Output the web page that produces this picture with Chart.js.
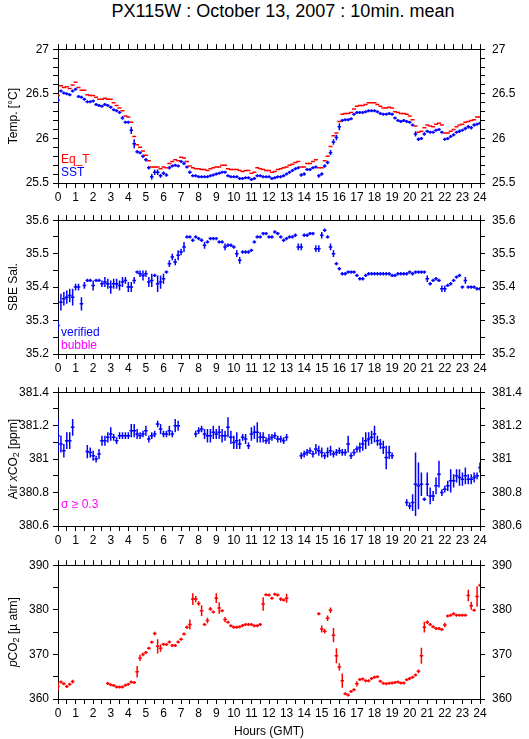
<!DOCTYPE html>
<html>
<head>
<meta charset="utf-8">
<script src="https://cdn.jsdelivr.net/npm/chart.js@4.4.0/dist/chart.umd.min.js"></script>
<style>
  body { margin: 0; background: #fff; width: 529px; height: 739px; overflow: hidden; position: relative;
         font-family: "Liberation Sans", Arial, sans-serif; }
  #title { position: absolute; left: 0; top: 0; width: 529px; padding-left: 37px; box-sizing: border-box;
           text-align: center; font-size: 18px; line-height: 22px; color: #000; }
  canvas { position: absolute; left: 0; }
</style>
</head>
<body>
<div id="title">PX115W : October 13, 2007 : 10min. mean</div>
<canvas id="c1"></canvas>
<canvas id="c2"></canvas>
<canvas id="c3"></canvas>
<canvas id="c4"></canvas>
<script>
// 10-minute bins, 0 .. 24 h (GMT)
const HOURS = Array.from({ length: 145 }, (_, k) => k / 6);

// --- Temperature panel ---
const SST = [
  26.43, 26.53, 26.51, 26.50, 26.49, 26.53,
  26.55, 26.47, 26.46, 26.44, 26.41, 26.41,
  26.42, 26.38, 26.37, 26.36, 26.38, 26.37,
  26.35, 26.32, 26.31, 26.29, 26.23, 26.18,
  26.18, 26.09, 25.94, 25.85, 25.84, 25.80,
  25.76, 25.67, 25.57, 25.62, 25.62, 25.58,
  25.61, 25.59, 25.67, 25.69, 25.70, 25.69,
  25.74, 25.72, 25.68, 25.62, 25.58, 25.58,
  25.57, 25.57, 25.57, 25.57, 25.58, 25.59,
  25.60, 25.61, 25.62, 25.62, 25.58, 25.57,
  25.57, 25.57, 25.55, 25.55, 25.56, 25.56,
  25.54, 25.55, 25.58, 25.58, 25.57, 25.57,
  25.57, 25.55, 25.56, 25.57, 25.57, 25.58,
  25.60, 25.62, 25.64, 25.66, 25.67, 25.59,
  25.60, 25.65, 25.65, 25.67, 25.68, 25.58,
  25.60, 25.69, 25.73, 25.84, 25.96, 26.01,
  26.13, 26.20, 26.21, 26.21, 26.22, 26.27,
  26.29, 26.29, 26.29, 26.30, 26.31, 26.31,
  26.31, 26.30, 26.28, 26.27, 26.27, 26.28,
  26.27, 26.23, 26.20, 26.19, 26.20, 26.19,
  26.18, 26.15, 26.05, 25.99, 26.00, 26.05,
  26.08, 26.07, 26.07, 26.09, 26.10, 26.07,
  25.99, 26.00, 26.02, 26.04, 26.07, 26.08,
  26.09, 26.11, 26.13, 26.12, 26.15, 26.16,
  26.17
];
const SST_ERR = [
  .03, .01, .01, .01, .01, .01,
  .01, .01, .01, .01, .01, .01,
  .01, .01, .01, .01, .01, .01,
  .01, .01, .01, .01, .02, .01,
  .01, .04, .05, .02, .01, .02,
  .02, .02, .03, .03, .03, .02,
  .02, .02, .02, .01, .01, .01,
  .01, .02, .01, .02, .01, .01,
  .01, .01, .01, .01, .01, .01,
  .01, .01, .01, .01, .01, .01,
  .01, .01, .01, .01, .01, .01,
  .01, .01, .01, .01, .01, .01,
  .01, .01, .01, .01, .01, .01,
  .01, .01, .01, .01, .01, .02,
  .02, .01, .01, .01, .01, .02,
  .02, .02, .02, .03, .03, .03,
  .04, .01, .01, .01, .01, .01,
  .01, .01, .01, .01, .01, .01,
  .01, .01, .01, .01, .01, .01,
  .01, .01, .01, .01, .01, .01,
  .01, .01, .03, .02, .01, .02,
  .01, .01, .01, .01, .01, .01,
  .01, .01, .01, .01, .01, .02,
  .01, .02, .02, .02, .02, .01,
  .01
];
const EQ_T = [
  26.48, 26.59, 26.57, 26.58, 26.56, 26.60,
  26.63, 26.57, 26.54, 26.54, 26.49, 26.48,
  26.48, 26.46, 26.44, 26.44, 26.45, 26.44,
  26.44, 26.40, 26.37, 26.34, 26.31, 26.25,
  26.24, 26.18, 26.02, 25.93, 25.90, 25.86,
  25.81, 25.75, 25.68, 25.68, 25.68, 25.66,
  25.68, 25.67, 25.72, 25.74, 25.76, 25.75,
  25.79, 25.78, 25.74, 25.69, 25.67, 25.66,
  25.66, 25.65, 25.65, 25.64, 25.66, 25.67,
  25.68, 25.68, 25.70, 25.70, 25.66, 25.65,
  25.65, 25.65, 25.64, 25.63, 25.64, 25.64,
  25.61, 25.62, 25.67, 25.66, 25.65, 25.64,
  25.64, 25.62, 25.63, 25.65, 25.66, 25.67,
  25.68, 25.70, 25.71, 25.73, 25.74, 25.68,
  25.68, 25.72, 25.72, 25.74, 25.76, 25.67,
  25.67, 25.75, 25.80, 25.91, 26.03, 26.06,
  26.19, 26.27, 26.28, 26.28, 26.29, 26.33,
  26.36, 26.37, 26.37, 26.38, 26.40, 26.40,
  26.40, 26.38, 26.36, 26.34, 26.34, 26.35,
  26.34, 26.30, 26.29, 26.28, 26.28, 26.27,
  26.25, 26.21, 26.14, 26.07, 26.08, 26.12,
  26.15, 26.14, 26.13, 26.16, 26.17, 26.15,
  26.06, 26.06, 26.08, 26.10, 26.13, 26.15,
  26.16, 26.18, 26.19, 26.20, 26.21, 26.24,
  26.24
];

// --- Salinity panel ---
const SAL = [
  35.285, 35.355, 35.365, 35.37, 35.375, 35.37,
  35.40, 35.40, 35.35, 35.405, 35.42, 35.42,
  35.405, 35.42, 35.42, 35.41, 35.415, 35.41,
  35.40, 35.41, 35.41, 35.405, 35.415, 35.42,
  35.40, 35.40, 35.42, 35.445, 35.44, 35.435,
  35.44, 35.415, 35.42, 35.435, 35.41, 35.415,
  35.425, 35.445, 35.47, 35.49, 35.475, 35.495,
  35.505, 35.52, 35.55, 35.55, 35.54, 35.55,
  35.545, 35.54, 35.525, 35.535, 35.545, 35.545,
  35.545, 35.535, 35.535, 35.52, 35.525, 35.525,
  35.52, 35.50, 35.48, 35.505, 35.505, 35.505,
  35.51, 35.535, 35.55, 35.55, 35.56, 35.56,
  35.55, 35.55, 35.565, 35.56, 35.55, 35.54,
  35.545, 35.55, 35.55, 35.555, 35.52, 35.52,
  35.555, 35.555, 35.56, 35.56, 35.515, 35.515,
  35.555, 35.57, 35.55, 35.52, 35.50, 35.47,
  35.455, 35.44, 35.44, 35.445, 35.445, 35.445,
  35.435, 35.425, 35.425, 35.435, 35.44, 35.44,
  35.44, 35.44, 35.44, 35.44, 35.44, 35.44,
  35.435, 35.435, 35.44, 35.44, 35.44, 35.44,
  35.445, 35.44, 35.445, 35.445, 35.445, 35.445,
  35.425, 35.41, 35.42, 35.425, 35.42, 35.395,
  35.395, 35.405, 35.41, 35.42, 35.43, 35.435,
  35.40, 35.42, 35.40, 35.40, 35.40, 35.395,
  35.395
];
const SAL_ERR = [
  .015, .025, .02, .02, .02, .025,
  .01, .01, .02, .01, .005, .005,
  .015, .005, .005, .01, .015, .015,
  .02, .015, .015, .015, .015, .01,
  .015, .015, .01, .005, .01, .015,
  .01, .015, .02, .005, .025, .02,
  .015, .005, .01, .01, .01, .015,
  .01, .015, .005, .005, .005, .005,
  .005, .005, .01, .005, .005, .005,
  .005, .005, .005, .01, .005, .005,
  .005, .01, .01, .005, .005, .005,
  .005, .005, .005, .005, .005, .005,
  .005, .005, .005, .005, .005, .005,
  .005, .005, .005, .005, .01, .01,
  .005, .005, .005, .005, .01, .01,
  .01, .005, .005, .01, .01, .005,
  .005, .005, .005, .005, .005, .005,
  .005, .005, .005, .005, .005, .005,
  .005, .005, .005, .005, .005, .005,
  .005, .005, .005, .005, .005, .005,
  .005, .005, .005, .005, .005, .005,
  .01, .005, .005, .005, .005, .01,
  .01, .005, .005, .005, .005, .005,
  .005, .01, .005, .005, .005, .005,
  .005
];

// --- Air xCO2 panel (null = no data) ---
const AIR = [
  381.14, 381.09, 381.05, 381.11, 381.11, 381.19,
  null, null, null, null, 381.045, 381.04,
  381.02, 381.00, 381.03, 381.11, 381.11, 381.13,
  381.15, 381.13, 381.11, 381.14, 381.14, 381.14,
  381.14, 381.17, 381.17, 381.15, 381.14, 381.15,
  381.17, 381.12, 381.14, 381.15, 381.21, 381.18,
  381.15, 381.15, 381.17, 381.15, 381.20, 381.20,
  null, null, null, null, null, 381.15,
  381.17, 381.18, 381.15, 381.14, 381.14, 381.16,
  381.15, 381.16, 381.14, 381.14, 381.19, 381.13,
  381.10, 381.11, 381.09, 381.13, 381.12, 381.08,
  381.15, 381.16, 381.16, 381.13, 381.13, 381.11,
  381.12, 381.13, 381.14, 381.12, 381.12, 381.11,
  381.13, null, null, null, null, 381.02,
  381.03, 381.04, 381.05, 381.03, 381.06, 381.05,
  381.04, 381.02, 381.04, 381.05, 381.03, 381.04,
  381.05, 381.04, 381.04, 381.09, 381.02, 381.04,
  381.06, 381.07, 381.09, 381.11, 381.12, 381.13,
  381.15, 381.11, 381.09, 381.07, 381.01, 381.04,
  381.02, null, null, null, null, 380.74,
  380.72, 380.74, 380.85, 380.84, 380.85, 380.76,
  380.85, 380.78, 380.78, 380.84, 380.91, 380.80,
  380.82, 380.84, 380.87, 380.87, 380.90, 380.89,
  380.88, 380.90, 380.88, 380.88, 380.89, 380.90,
  380.95
];
const AIR_ERR = [
  .10, .05, .04, .05, .05, .05,
  null, null, null, null, .04, .03,
  .03, .02, .03, .03, .03, .03,
  .04, .02, .02, .02, .02, .02,
  .02, .04, .04, .03, .02, .02,
  .03, .02, .02, .02, .02, .03,
  .02, .02, .03, .02, .04, .03,
  null, null, null, null, null, .02,
  .02, .02, .03, .04, .04, .04,
  .03, .04, .04, .03, .06, .04,
  .04, .05, .03, .02, .03, .02,
  .04, .04, .06, .03, .03, .02,
  .03, .02, .02, .02, .02, .02,
  .02, null, null, null, null, .02,
  .02, .02, .02, .02, .03, .03,
  .03, .02, .03, .03, .02, .02,
  .02, .02, .02, .05, .02, .02,
  .02, .03, .04, .05, .04, .04,
  .05, .03, .03, .04, .07, .04,
  .02, null, null, null, null, .02,
  .02, .05, .19, .14, .07, .01,
  .07, .05, .03, .05, .08, .02,
  .02, .03, .07, .04, .04, .05,
  .04, .05, .03, .03, .03, .02,
  .03
];

// --- pCO2 panel (null = no data) ---
const PCO2 = [
  362.8, 363.8, 363.4, 362.8, 363.3, 363.9,
  null, null, null, null, null, null,
  null, null, null, null, null, 363.5,
  363.2, 363.0, 362.7, 362.7, 362.7, 363.1,
  363.3, 363.8, 363.7, 366.1, 369.2, 370.0,
  370.4, 371.4, 372.7, 374.7, 371.8, 371.4,
  372.3, 372.2, 372.8, 372.0, 372.0, 372.8,
  373.4, 374.6, 376.1, 376.7, 382.4, 382.4,
  381.4, 379.8, 376.7, 377.6, 380.2, 379.5,
  382.6, 380.4, 379.8, 377.8, 377.2, 376.4,
  376.1, 376.1, 376.2, 376.5, 376.7, 376.7,
  376.7, 376.4, 376.4, 376.7, 381.3, 383.4,
  383.3, 382.6, 383.5, 383.3, 382.4, 382.2,
  382.6, null, null, null, null, null,
  null, null, null, null, null, 379.1,
  375.7, 375.2, 378.1, 379.9, 374.3, 369.7,
  367.2, 364.1, 361.2, 360.9, 361.7, 362.1,
  363.4, 364.4, 364.5, 364.1, 364.1, 364.6,
  364.9, 365.0, 364.0, 363.55, 363.4, 363.55,
  363.6, 363.7, 363.8, 363.6, 363.6, 364.3,
  364.6, 364.9, 365.4, 366.2, 369.7, 376.1,
  377.2, 376.7, 376.2, 375.8, 375.8, 375.6,
  376.6, 378.6, 378.8, 379.1, 378.8, 378.8,
  378.8, 378.8, 383.2, 380.9, 379.9, 383.0,
  385.5
];
const PCO2_ERR = [
  1.0, .3, .3, .3, .3, .4,
  null, null, null, null, null, null,
  null, null, null, null, null, .2,
  .2, .2, .2, .2, .2, .2,
  .2, .2, .2, 1.3, .7, .4,
  .3, .3, .3, .4, 1.6, .8,
  .3, .3, .3, .3, .3, .3,
  .3, .3, .4, 1.1, 1.3, .7,
  .5, 1.2, .3, .6, .4, .3,
  1.1, 1.3, .3, .6, .3, .3,
  .2, .2, .2, .2, .2, .2,
  .2, .2, .2, .2, 1.5, .3,
  .3, .2, .2, .2, .4, .3,
  1.0, null, null, null, null, null,
  null, null, null, null, null, .3,
  .8, .5, .6, .6, 1.6, 1.7,
  .8, 1.6, .3, .3, .3, .3,
  .6, .3, .3, .2, .2, .2,
  .2, .2, .2, .2, .2, .2,
  .2, .2, .2, .2, .2, .3,
  .3, .3, .3, .4, 1.8, 1.2,
  .4, .3, .3, .3, .3, .3,
  .5, .3, .3, .2, .2, .2,
  .2, .2, 1.3, .9, .3, 2.3,
  .3
];

const BLUE = '#0000ff', RED = '#ff0000', MAGENTA = '#ff00ff';
const FAMILY = "'Liberation Sans', Arial, sans-serif";
const TICK_FONT = { family: FAMILY, size: 12 };

// vertical error bars through the y scale, on top of the library's bin marks
const errorBars = {
  id: 'errorBars',
  afterDatasetsDraw(chart) {
    const { ctx, chartArea: a } = chart;
    ctx.save();
    ctx.beginPath();
    ctx.rect(a.left, a.top, a.right - a.left, a.bottom - a.top);
    ctx.clip();
    chart.data.datasets.forEach((ds, di) => {
      if (!ds.err) return;
      const meta = chart.getDatasetMeta(di);
      const ys = chart.scales[meta.yAxisID];
      ctx.strokeStyle = ds.pointBorderColor;
      ctx.lineWidth = 1.5;
      meta.data.forEach((pt, i) => {
        const v = ds.data[i].y, e = ds.err[i];
        if (v == null || pt.skip) return;
        let y1 = ys.getPixelForValue(v + e), y2 = ys.getPixelForValue(v - e);
        if (y2 - y1 < 3) { y1 = pt.y - 1.5; y2 = pt.y + 1.5; }
        ctx.beginPath();
        ctx.moveTo(pt.x, y1);
        ctx.lineTo(pt.x, y2);
        ctx.stroke();
      });
    });
    ctx.restore();
  }
};

// rotated y title (with italic / subscript pieces) and the small in-panel notes
const panelText = {
  id: 'panelText',
  afterDraw(chart, args, opts) {
    const { ctx, chartArea: a } = chart;
    ctx.save();
    if (opts.yTitle) {
      const fontOf = p => (p.italic ? 'italic ' : '') + (p.sub ? '9px ' : '12px ') + FAMILY;
      let total = 0;
      opts.yTitle.forEach(p => { ctx.font = fontOf(p); total += ctx.measureText(p.t).width; });
      ctx.translate(14, (a.top + a.bottom) / 2);
      ctx.rotate(-Math.PI / 2);
      ctx.textBaseline = 'middle';
      ctx.fillStyle = '#000';
      let x = -total / 2;
      opts.yTitle.forEach(p => {
        ctx.font = fontOf(p);
        ctx.fillText(p.t, x, p.sub ? 3 : 0);
        x += ctx.measureText(p.t).width;
      });
      ctx.setTransform(1, 0, 0, 1, 0, 0);
    }
    (opts.notes || []).forEach(n => {
      ctx.font = '12px ' + FAMILY;
      ctx.fillStyle = n.color;
      ctx.textBaseline = 'alphabetic';
      ctx.textAlign = 'left';
      ctx.fillText(n.text, a.left + 3, a.bottom - n.up);
    });
    ctx.restore();
  }
};

function hourLabel(v) {
  return Math.abs(v - Math.round(v)) < 1e-6 ? String(Math.round(v)) : '';
}

function yLabeler(major) {
  return v => {
    const r = v / major;
    return Math.abs(r - Math.round(r)) < 1e-6 ? String(+v.toFixed(2)) : '';
  };
}

function scalesFor(y, bottomH, xTitle) {
  const grid = { drawOnChartArea: false, drawTicks: true, tickLength: 5, color: '#000', tickWidth: 1 };
  const border = { display: true, color: '#000', width: 1 };
  const yAxis = (pos, pad, w) => ({
    type: 'linear', axis: 'y', position: pos, min: y.min, max: y.max, grid, border,
    ticks: { stepSize: y.step, maxTicksLimit: 100, autoSkip: false, padding: pad, color: '#000',
             font: TICK_FONT, callback: yLabeler(y.major) },
    afterFit: s => { s.width = w; }
  });
  return {
    x: {
      type: 'linear', axis: 'x', position: 'bottom', min: 0, max: 24, grid, border,
      ticks: { stepSize: 0.5, maxTicksLimit: 100, autoSkip: false, maxRotation: 0, padding: 2,
               color: '#000', font: TICK_FONT, callback: hourLabel },
      title: xTitle ? { display: true, text: xTitle, color: '#000', font: TICK_FONT, padding: { top: 0, bottom: 0 } }
                    : { display: false },
      afterFit: s => { s.height = bottomH; }
    },
    x2: {
      type: 'linear', axis: 'x', position: 'top', min: 0, max: 24, grid, border,
      ticks: { stepSize: 0.5, maxTicksLimit: 100, autoSkip: false, display: false },
      afterFit: s => { s.height = 10; }
    },
    y: yAxis('left', 4, 58),
    y2: yAxis('right', 7, 49)
  };
}

function series(label, vals, errs, color, radius) {
  return {
    label,
    data: HOURS.map((h, i) => ({ x: h, y: vals[i] })),
    err: errs,
    showLine: false,
    pointStyle: 'line',
    pointRadius: radius,
    pointHoverRadius: radius,
    pointBorderWidth: 1.5,
    pointBorderColor: color,
    pointBackgroundColor: color,
    yAxisID: 'y'
  };
}

function makePanel(id, plotTop, bottomH, datasets, y, text, xTitle) {
  const canvas = document.getElementById(id);
  const h = 10 + 138 + bottomH;
  canvas.width = 529;
  canvas.height = h;
  canvas.style.top = (plotTop - 10) + 'px';
  new Chart(canvas, {
    type: 'scatter',
    data: { datasets },
    options: {
      responsive: false,
      devicePixelRatio: 1,
      animation: false,
      events: [],
      layout: { padding: 0 },
      scales: scalesFor(y, bottomH, xTitle),
      plugins: { legend: { display: false }, tooltip: { enabled: false }, panelText: text }
    },
    plugins: [errorBars, panelText]
  });
}

makePanel('c1', 45, 25, [
  series('Eq_T', EQ_T, null, RED, 2),
  series('SST', SST, SST_ERR, BLUE, 1.8)
], { min: 25.5, max: 27, step: 0.1, major: 0.5 }, {
  yTitle: [{ t: 'Temp. [°C]' }],
  notes: [{ text: 'Eq_T', color: RED, up: 20 }, { text: 'SST', color: BLUE, up: 7 }]
});

makePanel('c2', 216, 25, [
  series('verified', SAL, SAL_ERR, BLUE, 1.8)
], { min: 35.2, max: 35.6, step: 0.05, major: 0.1 }, {
  yTitle: [{ t: 'SBE Sal.' }],
  notes: [{ text: 'verified', color: BLUE, up: 18 }, { text: 'bubble', color: MAGENTA, up: 5 }]
});

makePanel('c3', 388, 25, [
  series('Air xCO2', AIR, AIR_ERR, BLUE, 1.8)
], { min: 380.6, max: 381.4, step: 0.1, major: 0.2 }, {
  yTitle: [{ t: 'Air ' }, { t: 'x', italic: true }, { t: 'CO' }, { t: '2', sub: true }, { t: ' [ppm]' }],
  notes: [{ text: 'σ ≥ 0.3', color: MAGENTA, up: 18 }]
});

makePanel('c4', 561, 40, [
  series('pCO2', PCO2, PCO2_ERR, RED, 1.8)
], { min: 360, max: 390, step: 5, major: 10 }, {
  yTitle: [{ t: 'p', italic: true }, { t: 'CO' }, { t: '2', sub: true }, { t: ' [µ atm]' }]
}, 'Hours (GMT)');
</script>
</body>
</html>
